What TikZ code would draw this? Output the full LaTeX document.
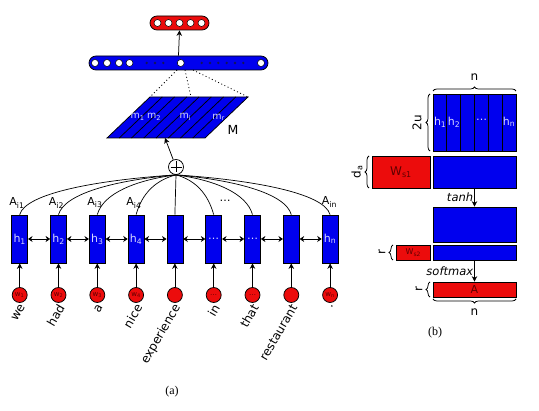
\documentclass[tikz,border=0pt]{standalone}
\usepackage{fontspec}
\setmainfont{DejaVu Sans}
\newfontfamily\capfont{Liberation Serif}
\usetikzlibrary{arrows.meta,decorations.pathreplacing,calc}
\definecolor{myblue}{RGB}{0,0,238}
\definecolor{myred}{RGB}{236,12,12}
\definecolor{darkred}{RGB}{95,0,0}
\definecolor{hwhite}{RGB}{215,215,255}
\definecolor{dotc}{RGB}{20,20,90}
\begin{document}
\begin{tikzpicture}[x=1pt,y=-1pt,line width=0.75pt,
  hbox/.style={draw=black,fill=myblue,minimum width=16pt,minimum height=48pt,inner sep=0pt,text=hwhite,font=\fontsize{11}{11}\selectfont},
  wcirc/.style={circle,draw=black,fill=myred,minimum size=15pt,inner sep=0pt,text=darkred,font=\fontsize{7}{7}\selectfont},
  wordlab/.style={rotate=60,anchor=east,inner sep=0pt,font=\fontsize{12}{12}\selectfont},
  alab/.style={inner sep=0pt,font=\fontsize{11}{11}\selectfont},
  mlab/.style={inner sep=0pt,text=hwhite,font=\fontsize{9.5}{9.5}\selectfont},
  bidir/.style={{Stealth[length=4.5pt,width=6pt]}-{Stealth[length=4.5pt,width=6pt]},line width=0.9pt},
  arr/.style={-{Stealth[length=5.5pt,width=5.5pt]}},
  bbox/.style={draw=black,fill=myblue,inner sep=0pt},
  rbox/.style={draw=black,fill=myred,inner sep=0pt,text=darkred},
  hole/.style={circle,draw=black,fill=white,minimum size=7pt,inner sep=0pt,line width=0.5pt},
  tinydot/.style={circle,fill=dotc,minimum size=2.6pt,inner sep=0pt},
  brc/.style={decorate,decoration={brace,amplitude=4pt}},
  blab/.style={inner sep=0pt,font=\fontsize{12}{12}\selectfont},
  dots/.style={dash pattern=on 1pt off 2.5pt,line width=0.8pt}
]
\useasboundingbox (0,0) rectangle (539,411);

% ---------- panel (a) ----------
% top red bar
\node[draw=black,fill=myred,rounded corners=7pt,minimum width=59pt,minimum height=14pt,inner sep=0pt] (rbar) at (179.5,23) {};
\foreach \x in {157.5,168.5,179.5,190.5,201.5}
  \node[hole] at (\x,23) {};
% blue bar
\node[draw=black,fill=myblue,rounded corners=7pt,minimum width=179pt,minimum height=14pt,inner sep=0pt] (bbar) at (178.5,63) {};
\foreach \x in {95,107,119,129.5,180.7,261}
  \node[hole] at (\x,63) {};
\foreach \x in {146.7,155,163.3,201.7,210,218.3,226.7,235,243.3}
  \node[tinydot] at (\x,63) {};
\draw[arr] (bbar.north) -- (rbar.south);

% M parallelogram
\coordinate (M1) at (107,138);
\coordinate (M2) at (205,138);
\coordinate (M3) at (248,97);
\coordinate (M4) at (150,97);
\coordinate (Mmid) at (191,97);
\coordinate (Mbot) at (165,138);
\draw[fill=myblue] (M1) -- (M2) -- (M3) -- (M4) -- cycle;
\foreach \k in {1,...,7}
  \draw ({107+12.25*\k},138) -- ({150+12.25*\k},97);
\node[mlab] (m1) at (137.5,117) {m\textsubscript{1}};
\node[mlab] (m2) at (154,117) {m\textsubscript{2}};
\node[mlab] (mi) at (185.5,117) {m\textsubscript{i}};
\node[mlab] (mr) at (218.5,117) {m\textsubscript{r}};
\node[blab,font=\fontsize{12.5}{12.5}\selectfont] (Mlab) at (233,130) {M};

% dotted projection lines
\coordinate (d1) at (177,70);
\coordinate (d2) at (185,70);
\coordinate (d3) at (193,70);
\draw[dots] (d1) -- (M4);
\draw[dots] (d2) -- (Mmid);
\draw[dots] (d3) -- (M3);

% plus node
\node[circle,draw=black,fill=white,minimum size=15pt,inner sep=0pt] (plus) at (176,167) {};
\draw ($(plus.center)+(-5.5,0)$) -- ($(plus.center)+(5.5,0)$);
\draw ($(plus.center)+(0,-5.5)$) -- ($(plus.center)+(0,5.5)$);
\draw[arr] (plus) -- (Mbot);

% hidden states, words
\foreach \i/\x/\hl/\wl/\word in {
  1/19.7/h\textsubscript{1}/w\textsubscript{1}/we,
  2/58.5/h\textsubscript{2}/w\textsubscript{2}/had,
  3/97.3/h\textsubscript{3}/w\textsubscript{3}/a,
  4/136.1/h\textsubscript{4}/w\textsubscript{4}/nice,
  5/174.9/{}/{}/experience,
  6/213.7/\dots/\dots/in,
  7/252.5/\dots/\dots/that,
  8/291.3/{}/{}/restaurant,
  9/330.1/h\textsubscript{n}/w\textsubscript{n}/.}{
  \node[hbox] (h\i) at (\x,239) {\hl};
  \node[wcirc] (w\i) at (\x,295) {\wl};
  \draw[arr] (w\i) -- (h\i);
  \node[wordlab] (word\i) at (\x+3,305) {\word};
}
\foreach \i in {1,...,8}{
  \pgfmathtruncatemacro\j{\i+1}
  \draw[bidir] (h\i.east) -- (h\j.west);
}

% attention curves
\foreach \i/\x in {1/19.7,2/58.5,3/97.3,4/136.1}
  \draw[line width=0.7pt] (plus.south) .. controls ({176+0.5*(\x-176)},180) and ({\x+6},193) .. (h\i.north);
\foreach \i/\x in {6/213.7,7/252.5,8/291.3,9/330.1}
  \draw[line width=0.7pt] (plus.south) .. controls ({176+0.5*(\x-176)},180) and ({\x-6},193) .. (h\i.north);
\draw[line width=0.7pt] (plus.south) -- (h5.north);

\node[alab] (A1) at (17,203) {A\textsubscript{i1}};
\node[alab] (A2) at (56.5,203) {A\textsubscript{i2}};
\node[alab] (A3) at (95,203) {A\textsubscript{i3}};
\node[alab] (A4) at (134,203) {A\textsubscript{i4}};
\node[alab] (Adots) at (225,201) {\dots};
\node[alab] (An) at (329.5,202) {A\textsubscript{in}};

\node[inner sep=0pt,font=\capfont\fontsize{12}{12}\selectfont] (capa) at (172,392) {(a)};

% ---------- panel (b) ----------
\node[bbox,minimum width=83pt,minimum height=57pt] (B1) at (474.5,122.5) {};
\foreach \k in {1,...,5}
  \draw ({433+13.83*\k},94) -- ({433+13.83*\k},151);
\node[mlab,font=\fontsize{11}{11}\selectfont] at (440.2,122) {h\textsubscript{1}};
\node[mlab,font=\fontsize{11}{11}\selectfont] at (454,122) {h\textsubscript{2}};
\node[mlab,font=\fontsize{11}{11}\selectfont] at (481.5,120) {\dots};
\node[mlab,font=\fontsize{11}{11}\selectfont] at (509,122) {h\textsubscript{n}};

\node[bbox,minimum width=83pt,minimum height=32pt] (B2) at (474.5,172) {};
\node[rbox,minimum width=58pt,minimum height=32pt,font=\fontsize{12}{12}\selectfont] (Ws1) at (401,172) {W\textsubscript{s1}};
\node[bbox,minimum width=83pt,minimum height=35pt] (B3) at (474.5,224.5) {};
\node[bbox,minimum width=83pt,minimum height=15pt] (B4) at (474.5,252.5) {};
\node[rbox,minimum width=34.5pt,minimum height=15pt,font=\fontsize{8}{8}\selectfont] (Ws2) at (413.3,252.5) {W\textsubscript{s2}};
\node[rbox,minimum width=83pt,minimum height=15pt,font=\fontsize{11}{11}\selectfont] (Aout) at (474.5,289.5) {A};

\draw[arr] (B2.south) -- (B3.north) node[pos=0.5,left=1pt,blab,font=\itshape\fontsize{11.5}{11.5}\selectfont] {tanh};
\draw[arr] (B4.south) -- (Aout.north) node[pos=0.5,left=1pt,blab,font=\itshape\fontsize{11.5}{11.5}\selectfont] {softmax};

% braces
\draw[brc] (433,91) -- (516,91);
\node[blab] (ntop) at (474.5,77) {n};
\draw[brc] (430,151) -- (430,94);
\node[blab,rotate=90] (twou) at (417,122.5) {2u};
\draw[brc] (369,188) -- (369,156);
\node[blab,rotate=90] (da) at (357,172) {d\textsubscript{a}};
\draw[brc] (393,260) -- (393,245);
\node[blab,rotate=90] (r1) at (382,252.5) {r};
\draw[brc] (430,297) -- (430,282);
\node[blab,rotate=90] (r2) at (419,289.5) {r};
\draw[brc] (516,299) -- (433,299);
\node[blab] (nbot) at (474.5,312) {n};

\node[inner sep=0pt,font=\capfont\fontsize{12}{12}\selectfont] (capb) at (435,333) {(b)};
\end{tikzpicture}
\end{document}
